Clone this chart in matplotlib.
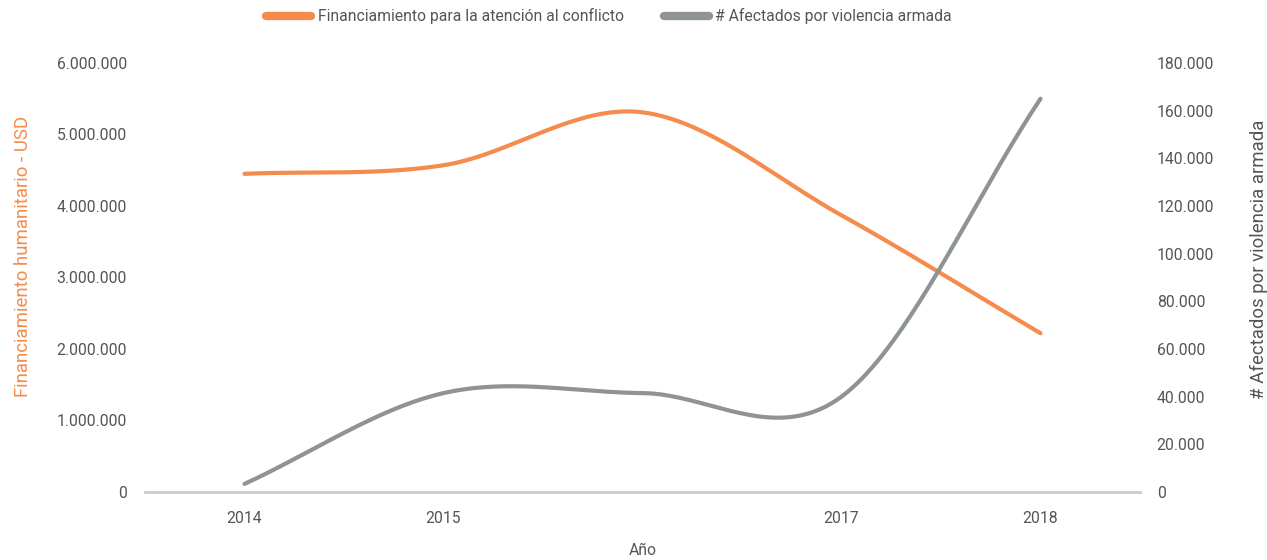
import matplotlib
matplotlib.use('Agg')
import matplotlib.pyplot as plt
import numpy as np

# data
years = ['2014', '2015', '2016', '2017', '2018']
year_labels = ['2014', '2015', '', '2017', '2018']
funding_usd = [4450000, 4570000, 5310000, 3870000, 2220000]
affected = [3400, 41500, 41500, 40000, 165000]

left_ticks = [0, 1000000, 2000000, 3000000, 4000000, 5000000, 6000000]
right_ticks = [0, 20000, 40000, 60000, 80000, 100000, 120000, 140000, 160000, 180000]

ORANGE = '#F58B4C'
GRAY = '#8E9396'
TEXT = '#555555'

plt.rcParams['font.family'] = ['Roboto', 'DejaVu Sans']


def smooth(xs, ys, n=40):
    # cardinal curve through the points (drawing only)
    xs = np.asarray(xs, float)
    ys = np.asarray(ys, float)
    m = np.empty(len(ys))
    m[1:-1] = (ys[2:] - ys[:-2]) / 2.
    m[0] = ys[1] - ys[0]
    m[-1] = ys[-1] - ys[-2]
    out_x, out_y = [], []
    for i in range(len(ys) - 1):
        t = np.linspace(0, 1, n)
        h00 = 2 * t**3 - 3 * t**2 + 1
        h10 = t**3 - 2 * t**2 + t
        h01 = -2 * t**3 + 3 * t**2
        h11 = t**3 - t**2
        out_x.append(xs[i] + t * (xs[i + 1] - xs[i]))
        out_y.append(h00 * ys[i] + h10 * m[i] + h01 * ys[i + 1] + h11 * m[i + 1])
    return np.concatenate(out_x), np.concatenate(out_y)


def dots(v):
    return '{:,}'.format(int(v)).replace(',', '.')


fig = plt.figure(figsize=(12.67, 5.6), dpi=100)
ax = fig.add_axes([145 / 1267., 68 / 560., 995 / 1267., 429 / 560.])
ax2 = ax.twinx()

x = np.arange(len(years))
sx, sy = smooth(x, funding_usd)
ax.plot(sx, sy, color=ORANGE, lw=3, solid_capstyle='round',
        label='Financiamiento para la atención al conflicto', zorder=3)
gx, gy = smooth(x, affected)
ax2.plot(gx, gy, color=GRAY, lw=3, solid_capstyle='round',
         label='# Afectados por violencia armada', zorder=3)

ax.set_xlim(-0.5, len(years) - 0.5)
ax.set_ylim(0, 6000000)
ax2.set_ylim(0, 180000)

ax.set_xticks(x)
ax.set_xticklabels(year_labels)
ax.set_yticks(left_ticks)
ax.set_yticklabels([dots(v) for v in left_ticks])
ax2.set_yticks(right_ticks)
ax2.set_yticklabels([dots(v) for v in right_ticks])

for a in (ax, ax2):
    for s in a.spines.values():
        s.set_visible(False)
    a.tick_params(length=0, labelsize=11.3, labelcolor=TEXT)
ax.spines['bottom'].set_visible(True)
ax.spines['bottom'].set_color('#CCCCCC')
ax.spines['bottom'].set_linewidth(2)
ax.tick_params(axis='x', pad=14)
ax.tick_params(axis='y', pad=13)
ax2.tick_params(axis='y', pad=12)

ax.set_xlabel('Año', color=TEXT, fontsize=11.3, labelpad=12)
ax.set_ylabel('Financiamiento humanitario - USD', color=ORANGE, fontsize=13.4)
ax.yaxis.set_label_coords(-0.1136, 0.549)
ax2.set_ylabel('# Afectados por violencia armada', color=TEXT, fontsize=13.4)
ax2.yaxis.set_label_coords(1.1105, 0.543)

h1, l1 = ax.get_legend_handles_labels()
h2, l2 = ax2.get_legend_handles_labels()
leg = fig.legend(h1 + h2, l1 + l2, loc='center', bbox_to_anchor=(609 / 1267., 1 - 16 / 560.),
                 ncol=2, frameon=False, fontsize=11.3, handlelength=2.9, handletextpad=0.4,
                 columnspacing=2.55)
for line in leg.get_lines():
    line.set_linewidth(6)
    line.set_solid_capstyle('round')
for t in leg.get_texts():
    t.set_color(TEXT)

fig.savefig('out.png', dpi=100)
